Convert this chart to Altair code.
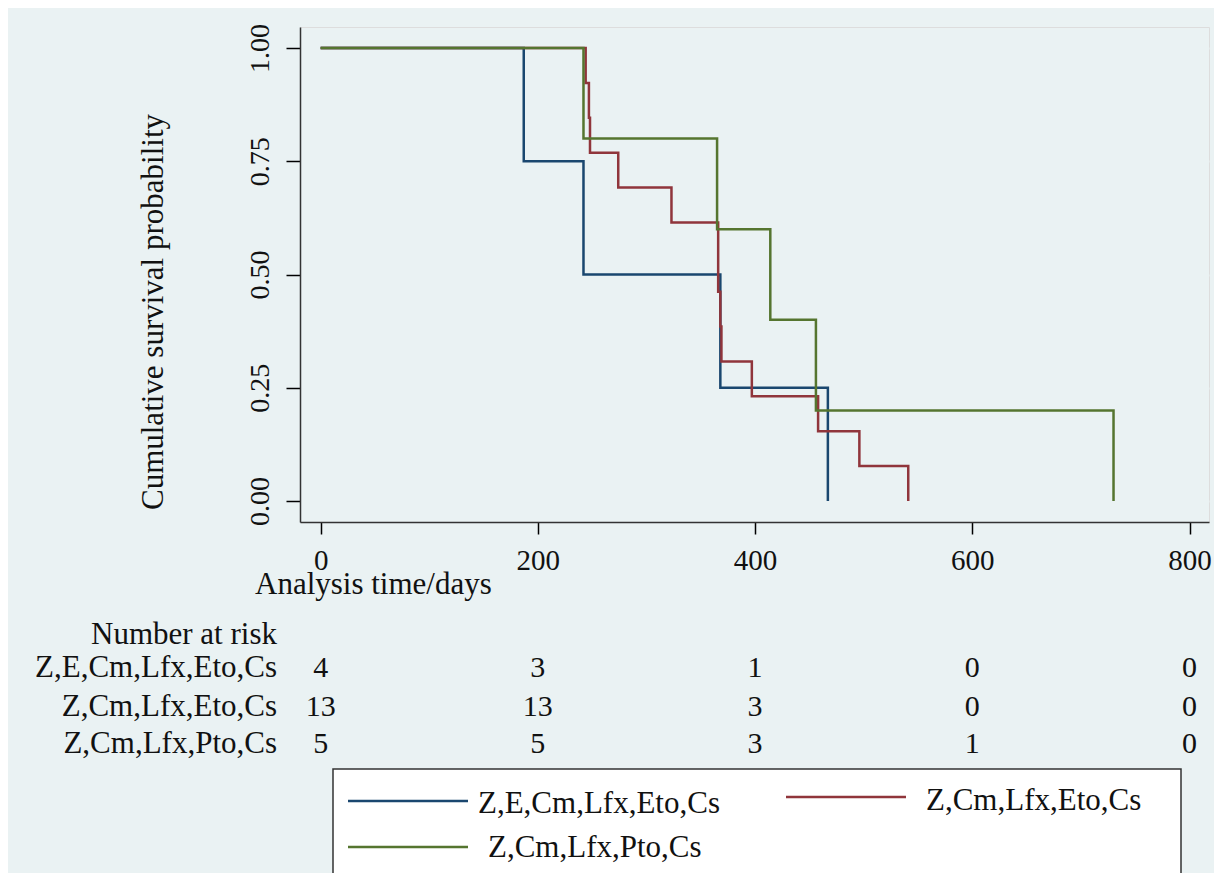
import altair as alt
import pandas as pd

# ---- data ----
groups = ["Z,E,Cm,Lfx,Eto,Cs", "Z,Cm,Lfx,Eto,Cs", "Z,Cm,Lfx,Pto,Cs"]
colors = ["#1a476f", "#90353b", "#55752f"]

blue_times = [0, 187, 242, 368, 467]
blue_surv = [1.0, 0.75, 0.5, 0.25, 0.0]

red_times = [0, 244, 247, 248, 274, 323, 366, 368, 369, 397, 458, 496, 541]
red_surv = [1.0, 0.923, 0.846, 0.769, 0.692, 0.615, 0.462, 0.385, 0.308, 0.231, 0.154, 0.077, 0.0]

green_times = [0, 242, 365, 414, 456, 730]
green_surv = [1.0, 0.8, 0.6, 0.4, 0.2, 0.0]

risk_times = [0, 200, 400, 600, 800]
risk_blue = [4, 3, 1, 0, 0]
risk_red = [13, 13, 3, 0, 0]
risk_green = [5, 5, 3, 1, 0]

x_ticks = [0, 200, 400, 600, 800]
y_ticks = [0.0, 0.25, 0.5, 0.75, 1.0]

FONT = "Liberation Serif"
BG = "#eaf2f3"

xs = alt.Scale(domain=[-19.0, 817.9], nice=False, zero=False)
ys = alt.Scale(domain=[-0.0464, 1.0464], nice=False, zero=False)

x_axis = alt.Axis(values=x_ticks, title=None, grid=False, tickSize=12, tickWidth=1.5,
                  tickColor="#000000", domainColor="#333333", domainWidth=1.5,
                  labelFontSize=29, labelPadding=35, labelBaseline="alphabetic",
                  labelFlush=False, labelOverlap=False, labelColor="#111111",
                  labelFont=FONT)
y_axis = alt.Axis(values=y_ticks, format=".2f", title=None, grid=True, gridColor=BG,
                  gridWidth=1.8, tickSize=14, tickWidth=1.5, tickColor="#000000",
                  domainColor="#333333", domainWidth=1.5, labelFontSize=28,
                  labelAngle=270, labelAlign="center", labelBaseline="alphabetic",
                  labelPadding=18, labelFlush=False, labelOverlap=False,
                  labelColor="#111111", labelFont=FONT)

X = alt.X("time:Q", scale=xs, axis=x_axis)
Y = alt.Y("surv:Q", scale=ys, axis=y_axis)


def km_layer(times, surv, color):
    df = pd.DataFrame({"time": times, "surv": surv})
    return alt.Chart(df).mark_line(interpolate="step-after", strokeWidth=2.5,
                                   color=color, clip=False).encode(x=X, y=Y, order="time:Q")


def text_layer(text, x, y, size=31, align="left", angle=0, baseline="alphabetic"):
    df = pd.DataFrame({"t": [text]})
    kw = dict(align=align, baseline=baseline, fontSize=size, font=FONT, color="#111111")
    if angle:
        kw["angle"] = angle
    return alt.Chart(df).mark_text(**kw).encode(x=alt.value(x), y=alt.value(y), text="t:N")


def risk_layer(counts, y):
    df = pd.DataFrame({"time": risk_times, "n": counts})
    return alt.Chart(df).mark_text(align="center", baseline="alphabetic", fontSize=30,
                                   font=FONT, color="#111111").encode(
        x=X, y=alt.value(y), text="n:N")


def legend_sample(x0, x1, y, color):
    df = pd.DataFrame({"k": [0]})
    return alt.Chart(df).mark_rule(color=color, strokeWidth=2.5).encode(
        x=alt.value(x0), x2=alt.value(x1), y=alt.value(y))


lines = [km_layer(blue_times, blue_surv, colors[0]),
         km_layer(red_times, red_surv, colors[1]),
         km_layer(green_times, green_surv, colors[2])]

titles = [
    text_layer("Cumulative survival probability", -137, 285, angle=270, align="center"),
    text_layer("Analysis time/days", -45, 567),
]

risk = [
    text_layer("Number at risk", -23, 617, align="right"),
    text_layer(groups[0], -23, 650, align="right"),
    text_layer(groups[1], -23, 689, align="right"),
    text_layer(groups[2], -23, 726, align="right"),
    risk_layer(risk_blue, 650),
    risk_layer(risk_red, 689),
    risk_layer(risk_green, 726),
]

legend_box = alt.Chart(pd.DataFrame({"k": [0]})).mark_rect(
    fill="white", stroke="#333333", strokeWidth=1.5).encode(
    x=alt.value(33), x2=alt.value(881), y=alt.value(742), y2=alt.value(880))

legend = [
    legend_box,
    legend_sample(48, 168, 774, colors[0]),
    text_layer(groups[0], 178, 786),
    legend_sample(486, 606, 770, colors[1]),
    text_layer(groups[1], 626, 783),
    legend_sample(48, 168, 820, colors[2]),
    text_layer(groups[2], 188, 830),
]

chart = alt.layer(*lines, *titles, *risk, *legend).properties(
    width=909, height=495,
    background=BG,
    padding={"left": 292, "top": 19, "right": 5, "bottom": 351},
    autosize=alt.AutoSizeParams(type="none"),
).configure_view(fill="white", stroke=None).configure(font=FONT)

chart.save("out.html", embed_options={"renderer": "svg", "actions": False})
